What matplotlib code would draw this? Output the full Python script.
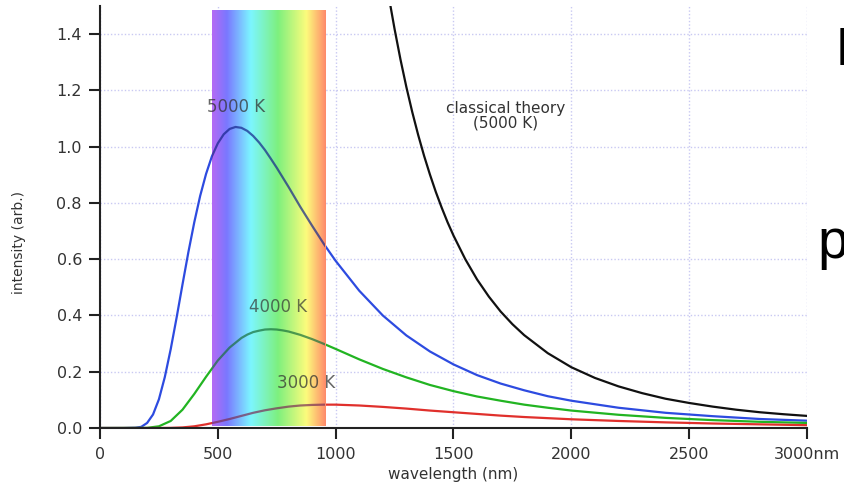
import numpy as np
import matplotlib
matplotlib.use("Agg")
import matplotlib.pyplot as plt
from matplotlib.colors import LinearSegmentedColormap
from matplotlib.patches import Rectangle

# ---- data ----
wl_5000 = [0, 100, 150, 175, 200, 225, 250, 275, 300, 325, 350, 375, 400, 425, 450, 475,
           500, 525, 550, 575, 600, 625, 650, 675, 700, 725, 750, 775, 800, 850, 900,
           950, 1000, 1100, 1200, 1300, 1400, 1500, 1600, 1700, 1800, 1900, 2000,
           2200, 2400, 2600, 2800, 3000]
int_5000 = [0.0, 0.0, 0.001, 0.004, 0.018, 0.048, 0.102, 0.181, 0.280, 0.392, 0.510,
            0.625, 0.731, 0.825, 0.903, 0.966, 1.012, 1.044, 1.063, 1.070, 1.067,
            1.056, 1.038, 1.015, 0.988, 0.957, 0.925, 0.891, 0.857, 0.786, 0.719,
            0.654, 0.594, 0.488, 0.400, 0.329, 0.272, 0.226, 0.188, 0.158, 0.134,
            0.113, 0.097, 0.072, 0.054, 0.042, 0.032, 0.026]

wl_4000 = [0, 200, 250, 300, 350, 400, 450, 500, 550, 600, 625, 650, 675, 700, 725,
           750, 775, 800, 850, 900, 950, 1000, 1100, 1200, 1300, 1400, 1500, 1600,
           1700, 1800, 1900, 2000, 2200, 2400, 2600, 2800, 3000]
int_4000 = [0.0, 0.0005, 0.006, 0.025, 0.065, 0.121, 0.182, 0.240, 0.286, 0.320,
            0.332, 0.341, 0.346, 0.350, 0.351, 0.350, 0.347, 0.343, 0.331, 0.316,
            0.299, 0.281, 0.244, 0.210, 0.180, 0.153, 0.131, 0.112, 0.097, 0.083,
            0.072, 0.062, 0.047, 0.036, 0.028, 0.022, 0.018]

wl_3000 = [0, 250, 300, 350, 400, 450, 500, 550, 600, 650, 700, 750, 800, 850, 900,
           950, 1000, 1100, 1200, 1300, 1400, 1500, 1600, 1700, 1800, 1900, 2000,
           2200, 2400, 2600, 2800, 3000]
int_3000 = [0.0, 0.0, 0.0005, 0.002, 0.006, 0.013, 0.022, 0.032, 0.043, 0.054, 0.063,
            0.070, 0.076, 0.080, 0.082, 0.083, 0.083, 0.080, 0.075, 0.069, 0.062,
            0.056, 0.050, 0.044, 0.039, 0.035, 0.031, 0.025, 0.020, 0.016, 0.013,
            0.010]

wl_classical = [1230, 1250, 1275, 1300, 1325, 1350, 1375, 1400, 1425, 1450, 1475, 1500,
                1550, 1600, 1650, 1700, 1750, 1800, 1900, 2000, 2100, 2200, 2300, 2400,
                2500, 2600, 2700, 2800, 2900, 3000]
int_classical = [1.512, 1.418, 1.310, 1.212, 1.123, 1.042, 0.968, 0.901, 0.839, 0.783,
                 0.731, 0.684, 0.600, 0.528, 0.467, 0.414, 0.369, 0.330, 0.266, 0.216,
                 0.178, 0.148, 0.124, 0.104, 0.089, 0.076, 0.065, 0.056, 0.049, 0.043]

x_ticks = [0, 500, 1000, 1500, 2000, 2500, 3000]
x_tick_labels = ["0", "500", "1000", "1500", "2000", "2500", "3000nm"]
y_ticks = [0.0, 0.2, 0.4, 0.6, 0.8, 1.0, 1.2, 1.4]

visible_start, visible_end = 475, 955      # visible spectrum band (nm)
band_bottom, band_top = 0.008, 1.485

# ---- figure ----
fig = plt.figure(figsize=(8.45, 4.88), dpi=100)
ax = fig.add_axes([100 / 845, 1 - 428 / 488, (807 - 100) / 845, (428 - 6) / 488])
ax.set_xlim(0, 3000)
ax.set_ylim(0, 1.5)

grid_kw = dict(color="#c9c9f2", linestyle=(0, (1, 1.5)), linewidth=1.0, zorder=0)
ax.set_xticks(x_ticks)
ax.set_yticks(y_ticks)
ax.grid(True, **grid_kw)

line_kw = dict(linewidth=1.6, solid_capstyle="round")
ax.plot(wl_classical, int_classical, color="#111111", zorder=2, **line_kw)
curves = [
    (wl_5000, int_5000, "#2d4be0", "#14238a"),
    (wl_4000, int_4000, "#22b422", "#17703a"),
    (wl_3000, int_3000, "#e0302c", "#7a2c55"),
]
for wl, inten, col, _ in curves:
    ax.plot(wl, inten, color=col, zorder=2, **line_kw)

# visible spectrum band
band_colors = [(0.0, "#b46af4"), (0.13, "#7a78ff"), (0.34, "#7cf6ff"),
               (0.58, "#7ef07e"), (0.83, "#fcfc7c"), (1.0, "#ff8a6a")]
cmap = LinearSegmentedColormap.from_list("visible", band_colors)
grad = np.linspace(0, 1, 256).reshape(1, -1)
ax.imshow(grad, cmap=cmap, aspect="auto", interpolation="bilinear",
          extent=[visible_start, visible_end, band_bottom, band_top], zorder=3)

clip_rect = Rectangle((visible_start, band_bottom), visible_end - visible_start,
                      band_top - band_bottom, transform=ax.transData)
for wl, inten, _, dark in curves:
    ln, = ax.plot(wl, inten, color=dark, alpha=0.7, zorder=4, **line_kw)
    ln.set_clip_path(clip_rect)

# curve labels
lab_kw = dict(fontsize=12, color="#333333", ha="center", va="center", zorder=5)
ax.text(578, 1.142, "5000 K", alpha=0.75, **lab_kw)
ax.text(755, 0.429, "4000 K", alpha=0.7, **lab_kw)
ax.text(875, 0.160, "3000 K", alpha=0.75, **lab_kw)
ax.text(1720, 1.11, "classical theory\n(5000 K)", fontsize=11, color="#333333",
        ha="center", va="center", linespacing=1.0, zorder=5)

# axes styling
for side in ("top", "right"):
    ax.spines[side].set_visible(False)
for side in ("left", "bottom"):
    ax.spines[side].set_linewidth(1.5)
    ax.spines[side].set_color("#222222")
ax.set_xticklabels(x_tick_labels)
ax.set_yticklabels([f"{v:.1f}" for v in y_ticks])
ax.tick_params(axis="both", direction="out", length=8, width=1.5, color="#222222",
               labelsize=11.5, labelcolor="#333333")
ax.tick_params(axis="x", pad=6)
ax.tick_params(axis="y", pad=5)
ax.set_xlabel("wavelength (nm)", fontsize=11, color="#333333", labelpad=3)
ax.set_ylabel("intensity (arb.)", fontsize=10, color="#333333")
ax.yaxis.set_label_coords(-0.105, 0.44)

# cut-off slide text at the right edge (as in the reference)
fig.text(836 / 845, 1 - 65 / 488, "P", fontsize=38, family="Liberation Sans",
         color="black", ha="left", va="baseline")
fig.text(817 / 845, 1 - 258 / 488, "p", fontsize=40, family="Liberation Sans",
         color="black", ha="left", va="baseline")

fig.savefig("out.png", dpi=100)
